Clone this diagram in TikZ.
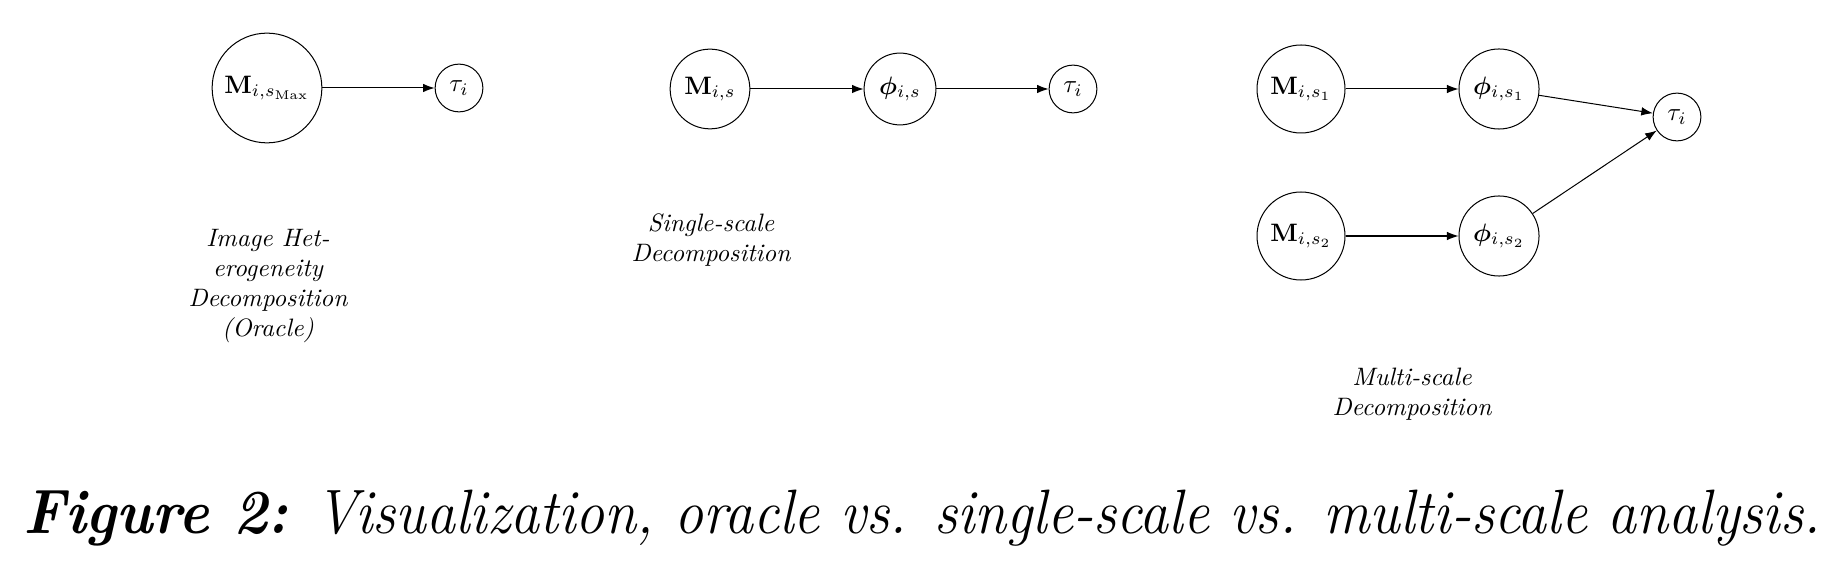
\documentclass[tikz,border=0pt]{standalone}
\usepackage{bm}
\usetikzlibrary{arrows.meta}
\tikzset{
  var/.style={draw, circle, line width=0.4pt},
  conn/.style={-{Latex[length=4.6pt,width=3.4pt]}, line width=0.4pt},
  lbl/.style={align=center, font=\itshape, inner sep=0pt},
  captext/.style={inner sep=0pt, anchor=base}
}
\begin{document}
\begin{tikzpicture}[x=0.3968pt, y=-0.3968pt]
\useasboundingbox (0,0) rectangle (1836,568);
% panel 1
\node[var] (mmax) at (267,88) {$\mathbf{M}_{i,s_{\mathrm{Max}}}$};
\node[var] (t1) at (459,88) {$\tau_i$};
\draw[conn] (mmax) -- (t1);
\node[lbl] (l1) at (268,286) {Image Het-\\erogeneity\\Decomposition\\(Oracle)};
% panel 2
\node[var] (ms) at (710,89) {$\mathbf{M}_{i,s}$};
\node[var] (ps) at (900,89) {$\bm{\phi}_{i,s}$};
\node[var] (t2) at (1073,89) {$\tau_i$};
\draw[conn] (ms) -- (ps);
\draw[conn] (ps) -- (t2);
\node[lbl] (l2) at (711,240) {Single-scale\\Decomposition};
% panel 3
\node[var] (m1) at (1301,89) {$\mathbf{M}_{i,s_1}$};
\node[var] (p1) at (1499,89) {$\bm{\phi}_{i,s_1}$};
\node[var] (m2) at (1301,236) {$\mathbf{M}_{i,s_2}$};
\node[var] (p2) at (1499,236) {$\bm{\phi}_{i,s_2}$};
\node[var] (t3) at (1677,117) {$\tau_i$};
\draw[conn] (m1) -- (p1);
\draw[conn] (m2) -- (p2);
\draw[conn] (p1) -- (t3);
\draw[conn] (p2) -- (t3);
\node[lbl] (l3) at (1412,394) {Multi-scale\\Decomposition};
% caption
\node[captext] (caption) at (922,533) {\scalebox{0.925}[1]{\fontsize{24.88}{30}\selectfont\itshape{\bfseries Figure 2:} Visualization, oracle vs. single-scale vs. multi-scale analysis.}};
\end{tikzpicture}
\end{document}
